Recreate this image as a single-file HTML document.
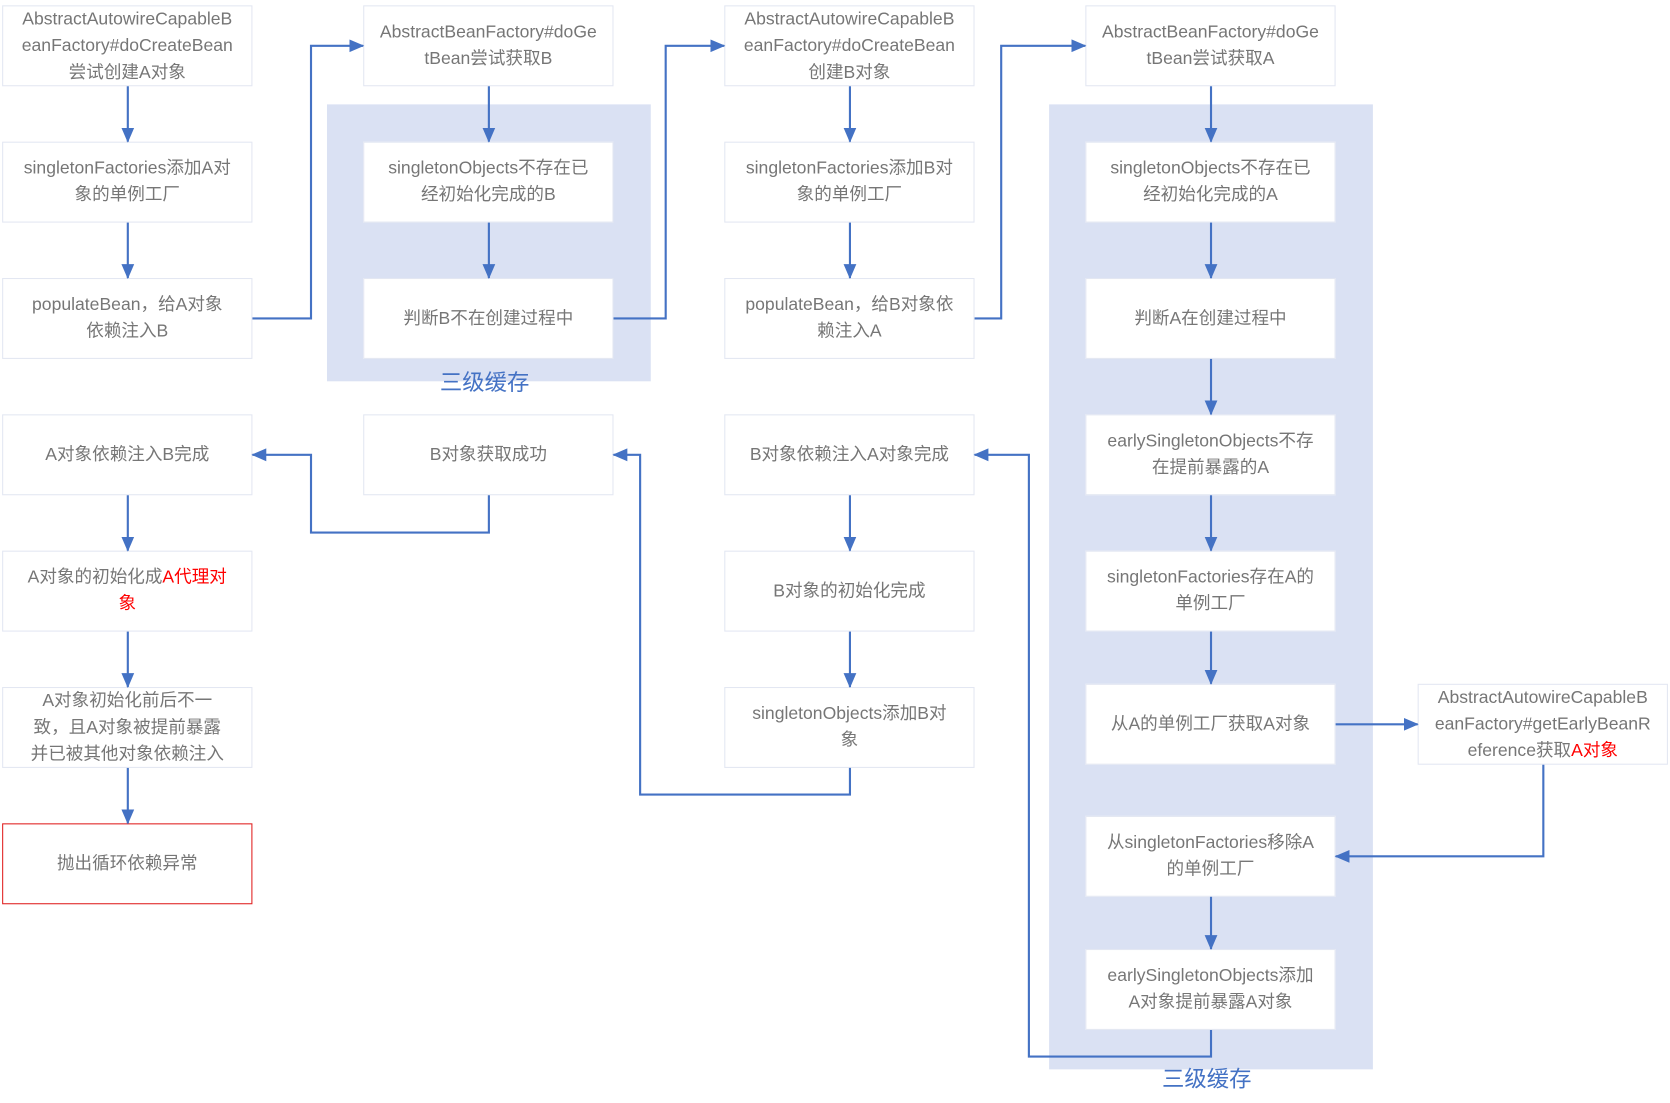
<!DOCTYPE html>
<html><head><meta charset="utf-8"><style>
html,body{margin:0;padding:0;background:#fff;width:1670px;height:1103px;overflow:hidden}
#w{position:absolute;left:0;top:0;width:1568px;height:1036px;transform:scale(1.0651);transform-origin:0 0}
.b{position:absolute;width:235px;height:76px;background:#fff;border:1px solid #e3e7f2;box-sizing:border-box;display:flex;align-items:center;justify-content:center;text-align:center;font-family:"Liberation Sans","Noto Sans CJK SC",sans-serif;font-size:16.5px;line-height:25px;color:#767676;white-space:nowrap;padding:0 4px}
.s{position:absolute;background:#dae1f3}
.l{position:absolute;font-family:"Liberation Sans","Noto Sans CJK SC",sans-serif;font-size:21px;color:#4472c4}
.r{color:#ff0000}
svg{position:absolute;left:0;top:0}
</style></head><body><div id="w">
<div class="s" style="left:307px;top:98px;width:304px;height:260px"></div>
<div class="s" style="left:985px;top:98px;width:304px;height:906px"></div>
<div class="l" style="left:413px;top:343px">三级缓存</div>
<div class="l" style="left:1091px;top:997px">三级缓存</div>

<div class="b" style="left:2px;top:5px"><span>AbstractAutowireCapableB<br>eanFactory#doCreateBean<br>尝试创建A对象</span></div>
<div class="b" style="left:2px;top:133px"><span>singletonFactories添加A对<br>象的单例工厂</span></div>
<div class="b" style="left:2px;top:261px"><span>populateBean，给A对象<br>依赖注入B</span></div>
<div class="b" style="left:2px;top:389px">A对象依赖注入B完成</div>
<div class="b" style="left:2px;top:517px"><span>A对象的初始化成<span class="r">A代理对<br>象</span></span></div>
<div class="b" style="left:2px;top:645px"><span>A对象初始化前后不一<br>致，且A对象被提前暴露<br>并已被其他对象依赖注入</span></div>
<div class="b" style="left:2px;top:773px;border:1.5px solid #e02020">抛出循环依赖异常</div>

<div class="b" style="left:341px;top:5px"><span>AbstractBeanFactory#doGe<br>tBean尝试获取B</span></div>
<div class="b" style="left:341px;top:133px"><span>singletonObjects不存在已<br>经初始化完成的B</span></div>
<div class="b" style="left:341px;top:261px">判断B不在创建过程中</div>
<div class="b" style="left:341px;top:389px">B对象获取成功</div>

<div class="b" style="left:680px;top:5px"><span>AbstractAutowireCapableB<br>eanFactory#doCreateBean<br>创建B对象</span></div>
<div class="b" style="left:680px;top:133px"><span>singletonFactories添加B对<br>象的单例工厂</span></div>
<div class="b" style="left:680px;top:261px"><span>populateBean，给B对象依<br>赖注入A</span></div>
<div class="b" style="left:680px;top:389px">B对象依赖注入A对象完成</div>
<div class="b" style="left:680px;top:517px">B对象的初始化完成</div>
<div class="b" style="left:680px;top:645px"><span>singletonObjects添加B对<br>象</span></div>

<div class="b" style="left:1019px;top:5px"><span>AbstractBeanFactory#doGe<br>tBean尝试获取A</span></div>
<div class="b" style="left:1019px;top:133px"><span>singletonObjects不存在已<br>经初始化完成的A</span></div>
<div class="b" style="left:1019px;top:261px">判断A在创建过程中</div>
<div class="b" style="left:1019px;top:389px"><span>earlySingletonObjects不存<br>在提前暴露的A</span></div>
<div class="b" style="left:1019px;top:517px"><span>singletonFactories存在A的<br>单例工厂</span></div>
<div class="b" style="left:1019px;top:642px">从A的单例工厂获取A对象</div>
<div class="b" style="left:1019px;top:766px"><span>从singletonFactories移除A<br>的单例工厂</span></div>
<div class="b" style="left:1019px;top:891px"><span>earlySingletonObjects添加<br>A对象提前暴露A对象</span></div>

<div class="b" style="left:1331px;top:642px"><span>AbstractAutowireCapableB<br>eanFactory#getEarlyBeanR<br>eference获取<span class="r">A对象</span></span></div>

<svg width="1568" height="1036" viewBox="0 0 1568 1036">
<defs><marker id="a" markerWidth="14" markerHeight="14" refX="13" refY="7" orient="auto" markerUnits="userSpaceOnUse" viewBox="0 0 14 14"><path d="M0,1 L14,7 L0,13 z" fill="#4472c4"/></marker></defs>
<g stroke="#4472c4" stroke-width="2" fill="none" marker-end="url(#a)">
<path d="M120 81V133"/><path d="M120 209V261"/><path d="M120 465V517"/><path d="M120 593V645"/><path d="M120 721V773"/>
<path d="M237 299H292V43H341"/>
<path d="M459 81V133"/><path d="M459 209V261"/>
<path d="M576 299H625V43H680"/>
<path d="M798 81V133"/><path d="M798 209V261"/><path d="M798 465V517"/><path d="M798 593V645"/>
<path d="M915 299H940V43H1019"/>
<path d="M1137 81V133"/><path d="M1137 209V261"/><path d="M1137 337V389"/><path d="M1137 465V517"/><path d="M1137 593V642"/><path d="M1137 842V891"/>
<path d="M1254 680H1331"/>
<path d="M1449 718V804H1254"/>
<path d="M1137 967V992H966V427H915"/>
<path d="M798 721V746H601V427H576"/>
<path d="M459 465V500H292V427H237"/>
</g></svg>
</div></body></html>
